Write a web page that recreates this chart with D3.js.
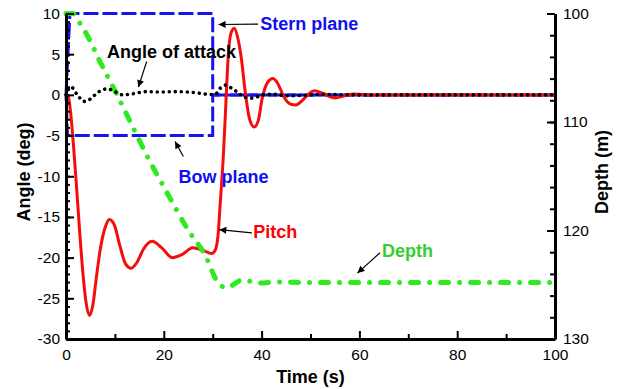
<!DOCTYPE html>
<html>
<head>
<meta charset="utf-8">
<script src="https://cdn.jsdelivr.net/npm/d3@7"></script>
<style>
  html, body { margin: 0; padding: 0; background: #fff; }
  svg { display: block; }
  text { font-family: "Liberation Sans", Arial, sans-serif; }
</style>
</head>
<body>
<svg id="chart" width="624" height="389"></svg>
<script>
// ---- data: time in seconds, angles in degrees, depth in metres ----
const pitchTime  = [0, 0.5, 1.0, 1.5, 2.0, 2.7, 3.4, 4.1, 4.8, 5.5, 6.2, 7.0, 8.0, 8.9, 9.9, 11.0, 12.2, 13.3, 14.5, 15.8, 17.6, 19.6, 21.7, 23.8, 25.9, 28.0, 29.8, 30.5, 31.1, 31.5, 32.2, 32.7, 33.2, 33.7, 34.4, 35.2, 35.9, 36.6, 37.6, 38.5, 39.3, 40.1, 41.2, 42.3, 43.3, 44.6, 45.8, 47.0, 48.3, 49.6, 50.8, 52.5, 55.0, 57.0, 59.0, 62.0, 66.0, 100];
const pitchAngle = [0, -0.3, -2.5, -6, -10, -16, -21.5, -25.5, -27.1, -25.8, -22.5, -19, -16.3, -15.3, -16.0, -18.5, -20.8, -21.3, -20.6, -19.0, -18.0, -18.8, -20.0, -19.6, -18.8, -19.1, -19.5, -19.1, -17.2, -13.7, -7.2, -1.0, 5.0, 7.5, 8.2, 6.8, 4.3, 0.6, -3.1, -3.95, -3.2, -0.5, 1.5, 2.0, 1.4, -0.3, -1.1, -1.25, -0.7, 0.1, 0.5, 0.2, -0.37, -0.1, 0.12, -0.05, 0, 0];

const aoaTime  = [0, 1.0, 2.2, 3.7, 5.0, 6.5, 8.5, 10.0, 11.6, 13.8, 16.4, 19.5, 22.5, 26.0, 29.8, 30.6, 31.5, 32.7, 33.9, 34.9, 36.6, 38.0, 39.7, 41.0, 43.0, 45.1, 48.5, 52.0, 60.0, 100];
const aoaAngle = [0, 1.0, 0.1, -0.8, -0.5, 0.3, 0.74, 0.4, 0.0, 0.15, 0.4, 0.35, 0.4, 0.3, 0.05, 0.1, 0.8, 1.2, 0.8, 0.4, -0.3, -0.4, -0.12, 0.08, 0.05, -0.12, -0.05, 0.05, 0, 0];

const sternTime  = [0, 0.8, 30, 30, 100];
const sternAngle = [0, 10, 10, 0, 0];
const bowTime    = [0, 0.3, 30, 30, 100];
const bowAngle   = [0, -5, -5, 0, 0];

const depthTime  = [0, 1.4, 3.0, 4.8, 6.8, 10.0, 13.6, 17.0, 20.4, 24.9, 28.6, 30.8, 32.9, 34.5, 35.9, 37.8, 39.7, 42.9, 50, 100];
const depthValue = [100, 100, 101.0, 102.4, 104.3, 107.1, 110.4, 113.5, 116.3, 119.9, 122.4, 124.6, 125.3, 124.9, 124.56, 124.7, 124.85, 124.75, 124.8, 124.8];

// ---- axis ticks ----
const timeTicks      = [0, 20, 40, 60, 80, 100];
const timeMinorTicks = [10, 30, 50, 70, 90];
const angleTicks     = [-30, -25, -20, -15, -10, -5, 0, 5, 10];
const depthTicks     = [100, 110, 120, 130];

// ---- layout ----
const plotLeft = 66, plotRight = 555, plotTop = 13.5, plotBottom = 339;
const svg = d3.select("#chart");

const x  = d3.scaleLinear().domain([0, 100]).range([plotLeft, plotRight]);
const yA = d3.scaleLinear().domain([-30, 10]).range([plotBottom, plotTop]);
const yD = d3.scaleLinear().domain([100, 130]).range([plotTop, plotBottom]);

const zip = (ts, vs) => ts.map((t, i) => [t, vs[i]]);

const lineA = d3.line().x(d => x(d[0])).y(d => yA(d[1]));
const smoothA = d3.line().x(d => x(d[0])).y(d => yA(d[1])).curve(d3.curveMonotoneX);
const smoothD = d3.line().x(d => x(d[0])).y(d => yD(d[1])).curve(d3.curveMonotoneX);

// ---- series ----
const plot = svg.append("g");

// stern and bow plane commands (blue dashed)
plot.append("path").attr("d", lineA(zip(sternTime, sternAngle)))
  .attr("fill", "none").attr("stroke", "#1414ee").attr("stroke-width", 3)
  .attr("stroke-dasharray", "15,4");
plot.append("path").attr("d", lineA(zip(bowTime, bowAngle)))
  .attr("fill", "none").attr("stroke", "#1414ee").attr("stroke-width", 3)
  .attr("stroke-dasharray", "15,4").attr("stroke-dashoffset", 9);

// pitch (red solid)
plot.append("path").attr("d", smoothA(zip(pitchTime, pitchAngle)))
  .attr("fill", "none").attr("stroke", "#f50d0d").attr("stroke-width", 3)
  .attr("stroke-linejoin", "round");

// depth (green dash-dot, right axis)
plot.append("path").attr("d", smoothD(zip(depthTime, depthValue)))
  .attr("fill", "none").attr("stroke", "#2fea1c").attr("stroke-width", 5)
  .attr("stroke-linecap", "round").attr("stroke-dasharray", "8,11,0.01,11");

// angle of attack (black dotted)
plot.append("path").attr("d", smoothA(zip(aoaTime, aoaAngle)))
  .attr("fill", "none").attr("stroke", "#000").attr("stroke-width", 3.6)
  .attr("stroke-linecap", "round").attr("stroke-dasharray", "0.01,6");

// ---- axes ----
const tickFont = "15.5px";
const plainNumber = d => String(d);   // keep the ASCII hyphen for negatives
function styleAxis(g) {
  g.select(".domain").attr("stroke", "#000").attr("stroke-width", 3);
  g.selectAll(".tick line").attr("stroke", "#000").attr("stroke-width", 2);
  g.selectAll(".tick text").attr("fill", "#000")
    .style("font-size", tickFont).style("font-family", '"Liberation Sans", Arial, sans-serif');
}

// minor ticks first, majors on top
svg.append("g").attr("transform", `translate(0,${plotBottom})`)
  .call(d3.axisBottom(x).tickValues(timeMinorTicks).tickSize(-5).tickFormat(""))
  .call(g => { g.select(".domain").remove(); g.selectAll("line").attr("stroke-width", 2); });
svg.append("g").attr("transform", `translate(${plotLeft},0)`)
  .call(d3.axisLeft(yA).tickValues(d3.range(-30, 11, 1)).tickSize(-4).tickFormat(""))
  .call(g => { g.select(".domain").remove(); g.selectAll("line").attr("stroke-width", 2); });
svg.append("g").attr("transform", `translate(${plotRight},0)`)
  .call(d3.axisRight(yD).tickValues(d3.range(100, 131, 2)).tickSize(-5).tickFormat(""))
  .call(g => { g.select(".domain").remove(); g.selectAll("line").attr("stroke-width", 2); });

svg.append("g").attr("transform", `translate(0,${plotBottom})`)
  .call(d3.axisBottom(x).tickValues(timeTicks).tickSize(-8).tickSizeOuter(0).tickPadding(10).tickFormat(plainNumber))
  .call(styleAxis);
svg.append("g").attr("transform", `translate(${plotLeft},0)`)
  .call(d3.axisLeft(yA).tickValues(angleTicks).tickSize(-8).tickSizeOuter(0).tickPadding(6).tickFormat(plainNumber))
  .call(styleAxis);
svg.append("g").attr("transform", `translate(${plotRight},0)`)
  .call(d3.axisRight(yD).tickValues(depthTicks).tickSize(-8).tickSizeOuter(0).tickPadding(8).tickFormat(plainNumber))
  .call(styleAxis);

// axis titles
svg.append("text").attr("x", (plotLeft + plotRight) / 2).attr("y", 383)
  .attr("text-anchor", "middle").attr("font-weight", "bold").attr("font-size", 18)
  .text("Time (s)");
svg.append("text").attr("transform", "translate(29.5,172) rotate(-90)")
  .attr("text-anchor", "middle").attr("font-weight", "bold").attr("font-size", 18)
  .text("Angle (deg)");
svg.append("text").attr("transform", "translate(608,172) rotate(-90)")
  .attr("text-anchor", "middle").attr("font-weight", "bold").attr("font-size", 18)
  .text("Depth (m)");

// ---- series labels with pointer arrows (in time / angle units) ----
svg.append("defs").append("marker")
  .attr("id", "head").attr("viewBox", "0 0 10 10").attr("refX", 10).attr("refY", 5)
  .attr("markerWidth", 9).attr("markerHeight", 7).attr("markerUnits", "userSpaceOnUse")
  .attr("orient", "auto")
  .append("path").attr("d", "M0,0 L10,5 L0,10 Z").attr("fill", "#000");

const notes = [
  { text: "Stern plane",     color: "#1010ee", at: [39.7, 7.92],  from: [39.3, 8.7],   to: [31.2, 8.65] },
  { text: "Angle of attack", color: "#000",    at: [8.4, 4.54],   from: [16.5, 4.1],   to: [14.8, 0.95] },
  { text: "Bow plane",       color: "#1010ee", at: [23.0, -10.8], from: [24.0, -7.57], to: [22.3, -5.73] },
  { text: "Pitch",           color: "#f00",    at: [38.3, -17.6], from: [38.0, -16.97], to: [31.35, -16.56] },
  { text: "Depth",           color: "#33cc33", at: [64.6, -19.9], from: [64.2, -19.4], to: [59.6, -21.9] }
];

notes.forEach(n => {
  svg.append("line")
    .attr("x1", x(n.from[0])).attr("y1", yA(n.from[1]))
    .attr("x2", x(n.to[0])).attr("y2", yA(n.to[1]))
    .attr("stroke", "#000").attr("stroke-width", 1.2)
    .attr("marker-end", "url(#head)");
  svg.append("text")
    .attr("x", x(n.at[0])).attr("y", yA(n.at[1]))
    .attr("fill", n.color).attr("font-weight", "bold").attr("font-size", 18)
    .text(n.text);
});
</script>
</body>
</html>
